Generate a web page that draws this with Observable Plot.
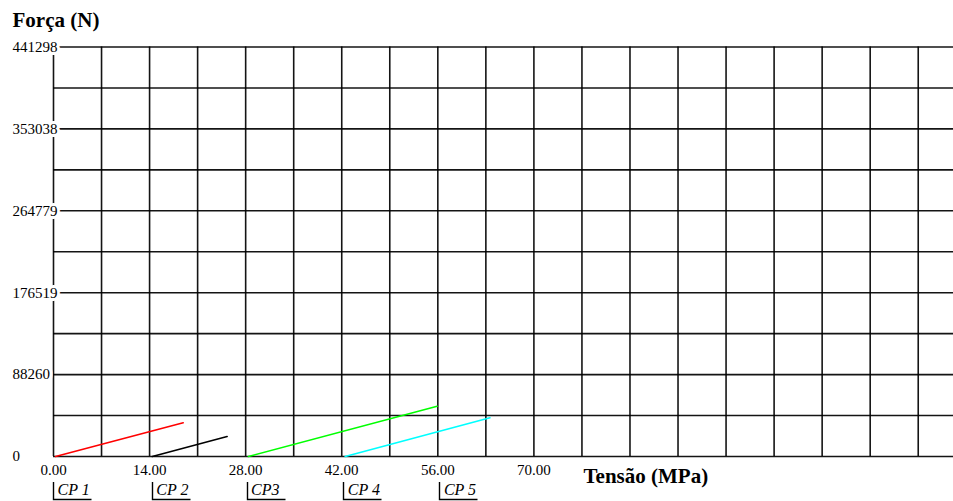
<!DOCTYPE html>
<html>
<head>
<meta charset="utf-8">
<script src="https://cdn.jsdelivr.net/npm/d3@7"></script>
<script src="https://cdn.jsdelivr.net/npm/@observablehq/plot@0.6"></script>
<style>
  html, body { margin: 0; padding: 0; background: #fff; }
  #chart { width: 953px; height: 501px; overflow: hidden; }
</style>
</head>
<body>
<div id="chart"></div>
<script>
// ---- data ----
const yTickValues = [0, 88260, 176519, 264779, 353038, 441298];
const yGridValues = [0, 44130, 88260, 132389, 176519, 220649, 264779, 308908, 353038, 397168, 441298];
const xGridValues = [0, 7, 14, 21, 28, 35, 42, 49, 56, 63, 70, 77, 84, 91, 98, 105, 112, 119, 126];
const xTickValues = [0, 14, 28, 42, 56, 70];
const cpLabels = ["CP 1", "CP 2", "CP3", "CP 4", "CP 5"];
const cpPositions = [0, 14.4, 28.2, 42.3, 56.3];
const seriesNames = ["CP 1", "CP 2", "CP 3", "CP 4"];
const seriesColors = ["#ff0000", "#000000", "#00ff00", "#00ffff"];
const cp1Tensao = [0.3, 18.9];
const cp1Forca = [0, 36300];
const cp2Tensao = [14.4, 25.3];
const cp2Forca = [0, 21550];
const cp3Tensao = [28.4, 55.9];
const cp3Forca = [0, 54200];
const cp4Tensao = [42.5, 63.6];
const cp4Forca = [0, 41700];

const allT = [cp1Tensao, cp2Tensao, cp3Tensao, cp4Tensao];
const allF = [cp1Forca, cp2Forca, cp3Forca, cp4Forca];
const rows = [];
seriesNames.forEach((s, i) => {
  allT[i].forEach((t, j) => rows.push({serie: s, tensao: t, forca: allF[i][j]}));
});

const W = 953, H = 501, ML = 53, MT = 46.5, MB = 45;

function brackets(index, scales, values, dims) {
  const g = d3.create("svg:g").attr("fill", "none").attr("stroke", "#000").attr("stroke-width", 1.4);
  const base = dims.height - dims.marginBottom;
  cpPositions.forEach(p => {
    const x0 = Math.round(scales.x(p)) + 0.5;
    g.append("path").attr("d", `M${x0},${base + 26}V${base + 43.5}H${x0 + 38}`);
  });
  return g.node();
}

const chart = Plot.plot({
  width: W, height: H,
  marginLeft: ML, marginRight: 0, marginTop: MT, marginBottom: MB,
  x: {domain: [0, 131.14], axis: null},
  y: {domain: [0, 441298], axis: null},
  color: {domain: seriesNames, range: seriesColors},
  style: {fontFamily: "'Liberation Serif', 'DejaVu Serif', serif", fontSize: "15px", background: "#fff", color: "#000", overflow: "visible"},
  marks: [
    Plot.ruleY(yGridValues, {stroke: "#000", strokeWidth: 1.6, strokeOpacity: 0.92}),
    Plot.ruleX(xGridValues, {stroke: "#000", strokeWidth: 1.6, strokeOpacity: 0.92}),
    Plot.line(rows, {x: "tensao", y: "forca", z: "serie", stroke: "serie", strokeWidth: 1.6}),
    Plot.text(yTickValues, {
      y: d => d, frameAnchor: "left", text: d => String(d),
      textAnchor: "start", dx: 12 - ML, fill: "#000", stroke: "#fff", strokeWidth: 6, fontSize: 15
    }),
    Plot.text(xTickValues, {
      x: d => d, frameAnchor: "bottom", text: d => d.toFixed(2),
      lineAnchor: "middle", dy: 14, fill: "#000", fontSize: 15
    }),
    Plot.text(cpLabels, {
      x: (d, i) => cpPositions[i], frameAnchor: "bottom", text: d => d,
      textAnchor: "start", lineAnchor: "middle", dx: 4, dy: 33, fontStyle: "italic", fontSize: 16, fill: "#000"
    }),
    brackets,
    Plot.text(["Tensão (MPa)"], {
      frameAnchor: "bottom-left", text: d => d, textAnchor: "start", lineAnchor: "middle",
      dx: 530, dy: 20, fontWeight: "bold", fontSize: 21, fill: "#000"
    }),
    Plot.text(["Força (N)"], {
      frameAnchor: "top-left", text: d => d, textAnchor: "start", lineAnchor: "middle",
      dx: 12 - ML, dy: -26.5, fontWeight: "bold", fontSize: 21, fill: "#000"
    })
  ]
});
document.getElementById("chart").appendChild(chart);
</script>
</body>
</html>
